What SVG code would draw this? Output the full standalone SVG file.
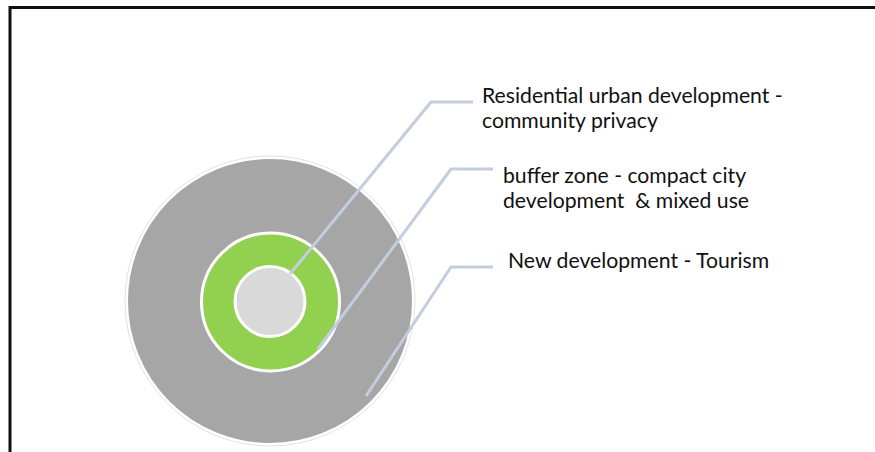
<svg xmlns="http://www.w3.org/2000/svg" width="875" height="452" viewBox="0 0 875 452">
  <style>
    .frame { fill: none; stroke: #111; stroke-width: 3; }
    .ring { stroke: #fff; stroke-width: 3; }
    .leader { fill: none; stroke: #c3cde0; stroke-width: 3; stroke-linejoin: round; }
    .label { font-family: Lato, "Open Sans", "Liberation Sans", sans-serif; font-size: 21.2px; fill: #111; white-space: pre; }
  </style>
  <rect width="875" height="452" fill="#fff"/>
  <!-- open frame: top and left edges only -->
  <path class="frame" d="M10 452 V7.5 H875"/>

  <g id="zone-outer">
    <circle cx="270" cy="301" r="145" fill="none" stroke="#e2e2e2" stroke-width="1"/>
    <circle cx="270" cy="301" r="143" fill="#a6a6a6" stroke="#fff" stroke-width="2"/>
  </g>
  <g id="zone-buffer">
    <circle class="ring" cx="270.5" cy="302" r="69" fill="#92d050"/>
  </g>
  <g id="zone-core">
    <circle class="ring" cx="270" cy="301.5" r="35" fill="#d9d9d9"/>
  </g>

  <g id="connectors">
    <polyline class="leader" points="290,274 431,102 473,102"/>
    <polyline class="leader" points="318,349 451,169 493,169"/>
    <polyline class="leader" points="366,396 451,267 493,267"/>
  </g>

  <g id="label-residential">
    <text class="label" x="482" y="103">Residential urban development -</text>
    <text class="label" x="482" y="127.5">community privacy</text>
  </g>
  <g id="label-buffer">
    <text class="label" x="503" y="183">buffer zone - compact city</text>
    <text class="label" x="503" y="207.5" xml:space="preserve">development  &amp; mixed use</text>
  </g>
  <g id="label-new">
    <text class="label" x="508" y="268">New development - Tourism</text>
  </g>
</svg>
